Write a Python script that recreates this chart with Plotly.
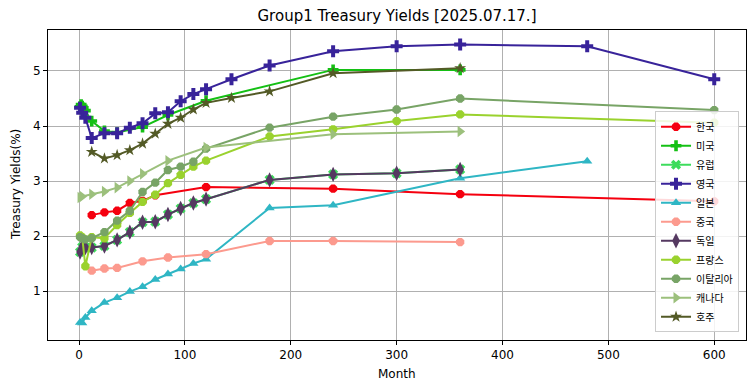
import plotly.graph_objects as go

# ---- data ----
kr_m = [12, 24, 36, 48, 60, 72, 120, 240, 360, 600]
kr_v = [2.38, 2.43, 2.46, 2.60, 2.64, 2.74, 2.89, 2.86, 2.76, 2.63]

us_m = [1, 2, 3, 4, 6, 12, 24, 36, 60, 84, 120, 240, 360]
us_v = [4.35, 4.39, 4.36, 4.33, 4.28, 4.09, 3.91, 3.88, 3.98, 4.20, 4.46, 5.02, 5.02]

eu_m = [1, 3, 6, 12, 24, 36, 48, 60, 72, 84, 96, 108, 120, 180, 240, 300, 360]
eu_v = [1.71, 1.80, 1.79, 1.79, 1.82, 1.93, 2.07, 2.25, 2.26, 2.39, 2.50, 2.60, 2.67, 3.02, 3.12, 3.14, 3.21]

uk_m = [1, 3, 6, 12, 24, 36, 48, 60, 72, 84, 96, 108, 120, 144, 180, 240, 300, 360, 480, 600]
uk_v = [4.33, 4.24, 4.15, 3.78, 3.87, 3.87, 3.97, 4.05, 4.23, 4.25, 4.45, 4.58, 4.67, 4.85, 5.10, 5.36, 5.45, 5.48, 5.45, 4.85]

jp_m = [1, 3, 6, 12, 24, 36, 48, 60, 72, 84, 96, 108, 120, 180, 240, 360, 480]
jp_v = [0.43, 0.42, 0.52, 0.64, 0.79, 0.88, 0.99, 1.08, 1.21, 1.31, 1.40, 1.50, 1.58, 2.51, 2.56, 3.05, 3.36]

cn_m = [12, 24, 36, 60, 84, 120, 180, 240, 360]
cn_v = [1.37, 1.41, 1.42, 1.54, 1.61, 1.67, 1.91, 1.91, 1.89]

de_m = [1, 3, 6, 12, 24, 36, 48, 60, 72, 84, 96, 108, 120, 180, 240, 300, 360]
de_v = [1.71, 1.80, 1.79, 1.79, 1.82, 1.93, 2.07, 2.25, 2.26, 2.39, 2.50, 2.60, 2.67, 3.02, 3.12, 3.14, 3.21]

fr_m = [1, 3, 6, 12, 24, 36, 48, 60, 72, 84, 96, 108, 120, 180, 240, 300, 360, 600]
fr_v = [2.01, 1.98, 1.45, 1.98, 1.96, 2.20, 2.42, 2.62, 2.75, 2.96, 3.11, 3.26, 3.37, 3.81, 3.94, 4.09, 4.21, 4.06]

it_m = [1, 3, 6, 12, 24, 36, 48, 60, 72, 84, 96, 108, 120, 180, 240, 300, 360, 600]
it_v = [1.98, 1.96, 1.94, 1.96, 2.07, 2.28, 2.46, 2.80, 2.97, 3.20, 3.26, 3.35, 3.59, 3.97, 4.17, 4.30, 4.50, 4.29]

ca_m = [1, 3, 12, 24, 36, 48, 60, 84, 120, 240, 360]
ca_v = [2.70, 2.72, 2.76, 2.81, 2.88, 3.00, 3.13, 3.37, 3.61, 3.85, 3.90]

au_m = [12, 24, 36, 48, 60, 72, 84, 96, 108, 120, 144, 180, 240, 360]
au_v = [3.53, 3.41, 3.47, 3.56, 3.68, 3.86, 4.04, 4.15, 4.30, 4.42, 4.51, 4.63, 4.96, 5.05]

series = [
    ("한국", kr_m, kr_v, "#f5000f", "octagon", 9),
    ("미국", us_m, us_v, "#14c014", "cross", 9),
    ("유럽", eu_m, eu_v, "#3ddc5c", "x", 9),
    ("영국", uk_m, uk_v, "#38239a", "cross", 10),
    ("일본", jp_m, jp_v, "#2fb6c4", "triangle-up", 9),
    ("중국", cn_m, cn_v, "#fc9a8e", "octagon", 9),
    ("독일", de_m, de_v, "#553961", "diamond-tall", 11),
    ("프랑스", fr_m, fr_v, "#9ad22e", "octagon", 9),
    ("이탈리아", it_m, it_v, "#78a466", "octagon", 9),
    ("캐나다", ca_m, ca_v, "#9cc07c", "triangle-right", 10),
    ("호주", au_m, au_v, "#535a26", "star", 9),
]

fig = go.Figure()
for name, m, v, c, sym, sz in series:
    fig.add_trace(go.Scatter(
        x=m, y=v, name=name, mode="lines+markers",
        line=dict(color=c, width=2),
        marker=dict(color=c, symbol=sym, size=sz, line=dict(width=0)),
    ))

font = "DejaVu Sans, Noto Sans CJK KR, sans-serif"
axis_common = dict(
    showline=True, linecolor="black", linewidth=1, mirror=True,
    ticks="outside", tickcolor="black", ticklen=4,
    showgrid=True, gridcolor="#b0b0b0", gridwidth=1,
    zeroline=False, tickfont=dict(size=12, color="black", family=font),
    automargin=False,
)
# page body adds an 8px offset, so the figure is 8px smaller than the window
fig.update_layout(
    width=747, height=383,
    margin=dict(l=40, r=9, t=22, b=51, autoexpand=False),
    paper_bgcolor="white", plot_bgcolor="white",
    font=dict(family=font, color="black"),
    title=dict(text="Group1 Treasury Yields [2025.07.17.]", x=0.5, xref="paper", xanchor="center",
               y=1 - 8 / 383, yref="container", yanchor="middle",
               font=dict(size=15, family=font, color="black")),
    xaxis=dict(range=[-29.3, 630], tickvals=[0, 100, 200, 300, 400, 500, 600], **axis_common),
    yaxis=dict(range=[0.11, 5.745], tickvals=[1, 2, 3, 4, 5], **axis_common),
    legend=dict(x=0.99, y=0.025, xanchor="right", yanchor="bottom",
                bgcolor="rgba(255,255,255,0.85)", bordercolor="#cccccc", borderwidth=1,
                font=dict(size=10, family=font), itemwidth=30, tracegroupgap=0),
    showlegend=True,
    annotations=[
        dict(text="Month", xref="paper", yref="paper", x=0.5, y=-34 / 310, xanchor="center",
             yanchor="middle", showarrow=False, font=dict(size=12, family=font, color="black")),
        dict(text="Treasury Yields(%)", xref="paper", yref="paper", x=-32 / 698, y=0.5,
             xanchor="center", yanchor="middle", textangle=-90, showarrow=False,
             font=dict(size=12, family=font, color="black")),
    ],
)
fig.write_html("out.html")
